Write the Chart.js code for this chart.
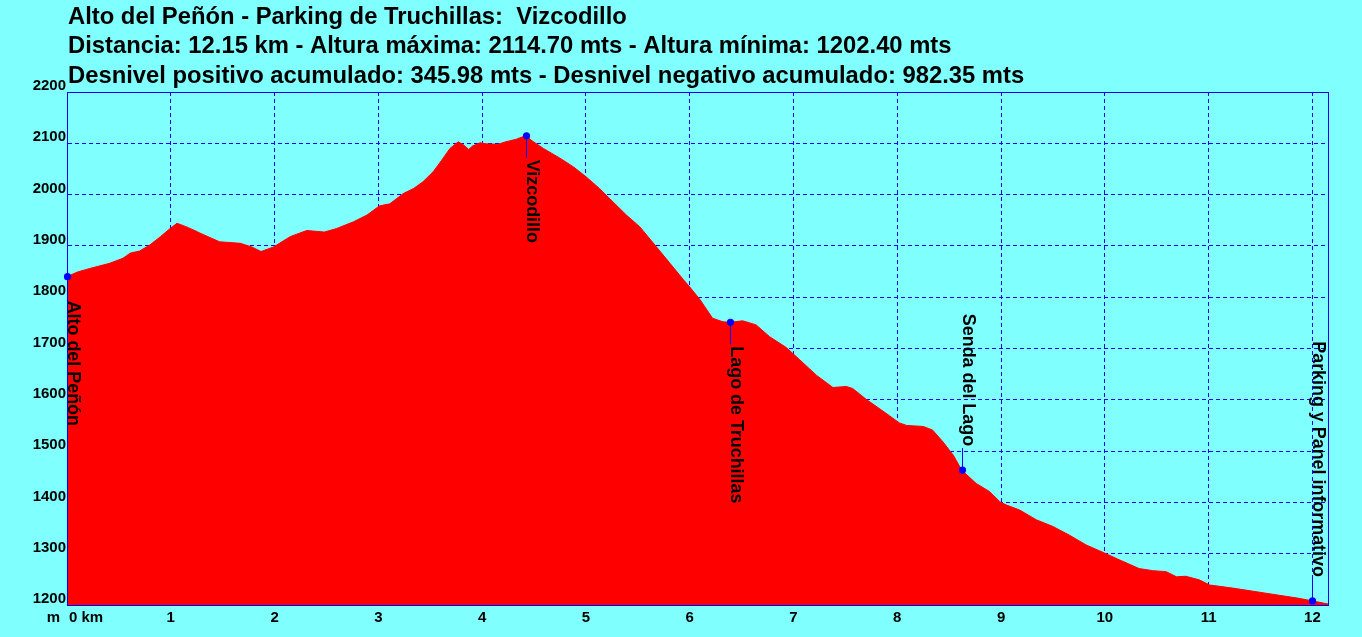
<!DOCTYPE html>
<html>
<head>
<meta charset="utf-8">
<title>Alto del Peñón - Parking de Truchillas: Vizcodillo</title>
<script src="https://cdn.jsdelivr.net/npm/chart.js@4"></script>
<style>
  html, body { margin: 0; padding: 0; background: #80ffff; }
  canvas { display: block; }
</style>
</head>
<body>
<canvas id="profile" width="1362" height="637"></canvas>
<script>
// header text
const titleLines = [
    "Alto del Peñón - Parking de Truchillas:  Vizcodillo",
    "Distancia: 12.15 km - Altura máxima: 2114.70 mts - Altura mínima: 1202.40 mts",
    "Desnivel positivo acumulado: 345.98 mts - Desnivel negativo acumulado: 982.35 mts"
];

// profile: distance (km) and altitude (m)
const distKm = [
    0.00, 0.10, 0.22, 0.41, 0.54, 0.61, 0.70, 0.80, 0.90, 1.00,
    1.06, 1.14, 1.22, 1.28, 1.47, 1.67, 1.78, 1.87, 1.99, 2.15,
    2.31, 2.48, 2.60, 2.76, 2.89, 3.01, 3.11, 3.24, 3.34, 3.43,
    3.53, 3.61, 3.69, 3.77, 3.82, 3.87, 3.91, 3.98, 4.04, 4.15,
    4.23, 4.33, 4.42, 4.48, 4.59, 4.75, 4.88, 5.00, 5.13, 5.26,
    5.39, 5.52, 5.68, 5.81, 5.94, 6.00, 6.10, 6.22, 6.32, 6.39,
    6.51, 6.64, 6.77, 6.93, 7.06, 7.22, 7.38, 7.51, 7.57, 7.70,
    7.89, 8.02, 8.09, 8.25, 8.34, 8.44, 8.54, 8.62, 8.76, 8.89,
    8.99, 9.05, 9.18, 9.34, 9.50, 9.66, 9.82, 10.00, 10.14, 10.33,
    10.46, 10.59, 10.69, 10.78, 10.91, 11.01, 11.23, 11.55, 11.87, 12.00,
    12.15
];
const elevM = [
    1840, 1849, 1856, 1866, 1876, 1886, 1890, 1902, 1918, 1935,
    1944, 1938, 1931, 1925, 1908, 1905, 1898, 1889, 1898, 1918,
    1930, 1927, 1934, 1947, 1960, 1978, 1982, 2002, 2012, 2025,
    2045, 2067, 2090, 2103, 2097, 2088, 2095, 2101, 2099, 2098,
    2103, 2108, 2115, 2105, 2090, 2071, 2054, 2035, 2012, 1986,
    1960, 1937, 1898, 1866, 1834, 1820, 1795, 1759, 1752, 1751,
    1754, 1746, 1723, 1702, 1678, 1648, 1624, 1626, 1622, 1601,
    1574, 1555, 1550, 1548, 1541, 1518, 1492, 1463, 1437, 1421,
    1401, 1395, 1385, 1366, 1353, 1336, 1317, 1301, 1288, 1271,
    1267, 1265, 1255, 1256, 1249, 1239, 1233, 1223, 1213, 1208,
    1202
];

// waypoints
const wpNames = ["Alto del Peñón", "Vizcodillo", "Lago de Truchillas", "Senda del Lago", "Parking y Panel informativo"];
const wpKm = [0.00, 4.42, 6.39, 8.62, 12.00];
const wpElev = [1840, 2114.7, 1751, 1463, 1208];
const wpSide = ["down", "down", "down", "up", "up"];

// axis ranges
const altMin = 1200, altMax = 2200, altStep = 100;
const kmMax = 12.15, kmStep = 1;

const BLUE = "#0000ff";
const FONT = "'Liberation Sans', Arial, sans-serif";

const profileDecor = {
    id: "profileDecor",
    beforeDraw(chart) {
        const ctx = chart.ctx;
        ctx.save();
        ctx.fillStyle = "#80ffff";
        ctx.fillRect(0, 0, chart.width, chart.height);
        ctx.restore();
    },
    afterDraw(chart) {
        const { ctx, chartArea: a, scales: { x, y } } = chart;
        ctx.save();

        // title block
        ctx.fillStyle = "#000";
        ctx.font = "bold 23.8px " + FONT;
        ctx.textAlign = "left";
        ctx.textBaseline = "alphabetic";
        titleLines.forEach((t, i) => ctx.fillText(t, 68, 24 + i * 29.3));

        // frame round the plot
        ctx.strokeStyle = BLUE;
        ctx.lineWidth = 1;
        ctx.strokeRect(Math.floor(a.left) + 0.5, Math.floor(a.top) + 0.5,
            Math.round(a.right - a.left), Math.round(a.bottom - a.top));

        // unit labels at the origin
        const x0 = x.getPixelForValue(0);
        ctx.font = "bold 15px " + FONT;
        ctx.textBaseline = "top";
        ctx.textAlign = "right";
        ctx.fillText("m", x0 - 7, a.bottom + 5);
        ctx.textAlign = "left";
        ctx.fillText("0 km", x0 + 2, a.bottom + 5);

        // waypoints
        wpNames.forEach((name, i) => {
            const px = Math.round(x.getPixelForValue(wpKm[i]));
            const py = y.getPixelForValue(wpElev[i]);
            const dir = wpSide[i] === "up" ? -1 : 1;
            const stemEnd = py + dir * 22;

            ctx.strokeStyle = BLUE;
            ctx.beginPath();
            ctx.moveTo(px + 0.5, py);
            ctx.lineTo(px + 0.5, stemEnd);
            ctx.stroke();

            ctx.fillStyle = BLUE;
            ctx.beginPath();
            ctx.arc(px + 0.5, py, 3.6, 0, Math.PI * 2);
            ctx.fill();

            ctx.save();
            ctx.translate(px + 1, stemEnd + dir * 2);
            ctx.rotate(Math.PI / 2);
            ctx.fillStyle = "#000";
            ctx.font = "bold 17.9px " + FONT;
            ctx.textBaseline = "alphabetic";
            ctx.textAlign = dir > 0 ? "left" : "right";
            ctx.fillText(name, 0, 0);
            ctx.restore();
        });

        ctx.restore();
    }
};

const points = distKm.map((d, i) => ({ x: d, y: elevM[i] }));

new Chart(document.getElementById("profile"), {
    type: "line",
    data: {
        datasets: [{
            data: points,
            borderColor: "#ff0000",
            backgroundColor: "#ff0000",
            borderWidth: 1,
            fill: "start",
            pointRadius: 0,
            tension: 0
        }]
    },
    options: {
        responsive: false,
        animation: false,
        devicePixelRatio: 1,
        layout: { padding: { top: 92, right: 34, left: 0, bottom: 0 } },
        plugins: {
            legend: { display: false },
            tooltip: { enabled: false },
            title: { display: false }
        },
        scales: {
            x: {
                type: "linear",
                min: 0,
                max: kmMax,
                z: 1,
                afterFit(scale) { scale.height = 32; },
                grid: { color: BLUE, lineWidth: 1, drawTicks: false },
                border: { color: BLUE, width: 1, dash: [4, 3] },
                ticks: {
                    stepSize: kmStep,
                    includeBounds: false,
                    autoSkip: false,
                    maxRotation: 0,
                    padding: 4,
                    color: "#000",
                    font: { family: FONT, size: 15, weight: "bold" },
                    callback: (v) => (v === 0 ? "" : String(v))
                }
            },
            y: {
                min: altMin,
                max: altMax,
                z: 1,
                afterFit(scale) { scale.width = 67; },
                grid: { color: BLUE, lineWidth: 1, drawTicks: false },
                border: { color: BLUE, width: 1, dash: [4, 3] },
                ticks: {
                    stepSize: altStep,
                    padding: 1,
                    labelOffset: -6,
                    color: "#000",
                    font: { family: FONT, size: 15, weight: "bold" },
                    callback: (v) => String(v)
                }
            }
        }
    },
    plugins: [profileDecor]
});
</script>
</body>
</html>
